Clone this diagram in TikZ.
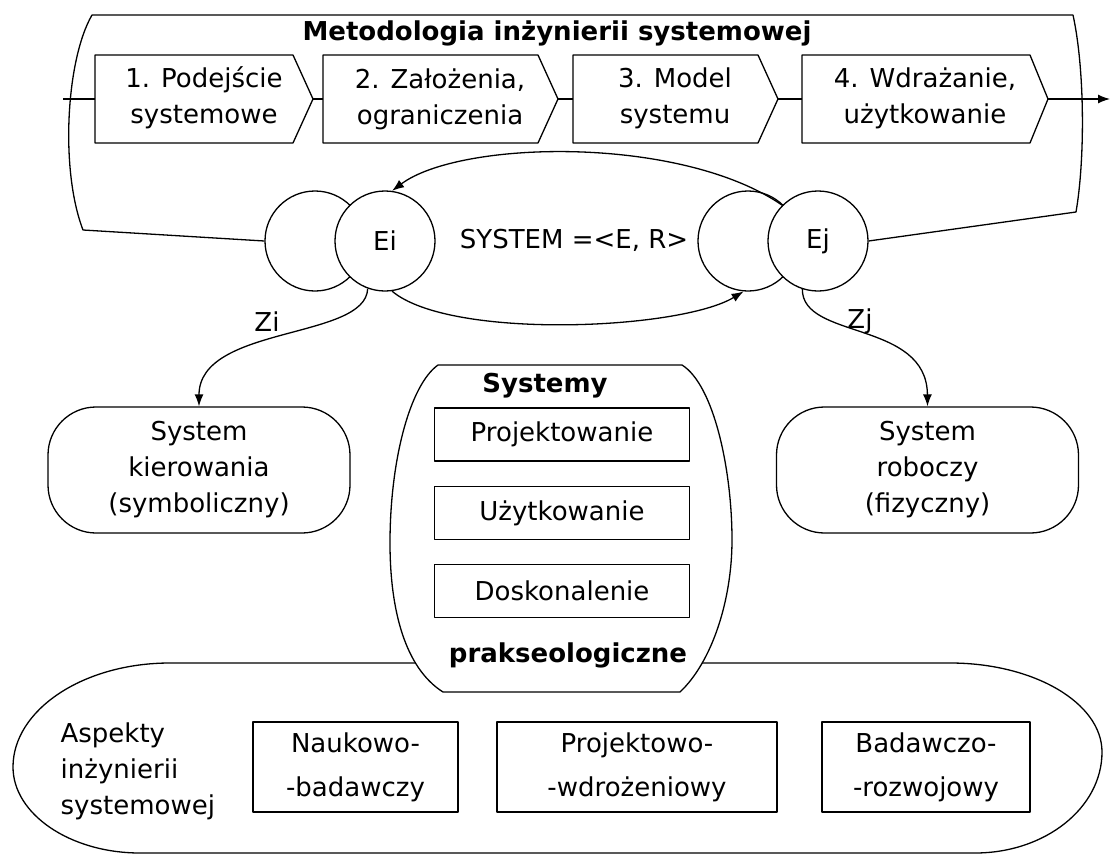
\documentclass[tikz,border=0pt]{standalone}
\usepackage{fontspec}
\setmainfont{DejaVu Sans}
\usetikzlibrary{arrows.meta}
\begin{document}
\begin{tikzpicture}[x=1pt,y=-1pt,
  line width=1.3pt, line join=round,
  txt/.style={font=\fontsize{26}{36}\selectfont, align=center, inner sep=0pt},
  btxt/.style={font=\fontsize{26}{36}\selectfont\bfseries, inner sep=0pt},
  elem/.style={circle, draw, fill=white, minimum size=100pt, inner sep=0pt, font=\fontsize{26}{36}\selectfont},
  sbox/.style={draw, fill=white, minimum width=255pt, minimum height=53pt, inner sep=0pt, font=\fontsize{26}{36}\selectfont},
  abox/.style={draw, minimum height=90pt, inner sep=0pt, align=center, font=\fontsize{26}{44}\selectfont},
  ovalbox/.style={draw, fill=white, rounded corners=48pt, minimum width=302pt, minimum height=126pt, align=center, inner sep=0pt, font=\fontsize{26}{36}\selectfont},
  arr/.style={-{Latex[length=12pt,width=9pt]}},
]
\useasboundingbox (0,0) rectangle (1112,854);

% ---------------- circles (elements) ----------------
\node[elem] (L)  at (315,241) {};
\node[elem] (Ei) at (385,241) {Ei};
\node[elem] (R)  at (748,241) {};
\node[elem] (Ej) at (818,241) {Ej};

% ---------------- frame of methodology ----------------
\coordinate (fbl) at (83,230);
\coordinate (fbr) at (1076,212);
\draw (L.west) -- (fbl) .. controls (60,170) and (66,60) .. (92,15)
      -- (1073,15) .. controls (1085,70) and (1085,160) .. (fbr) -- (Ej.east);

\node[btxt] (title) at (557,33) {Metodologia inżynierii systemowej};

% ---------------- chevrons ----------------
\coordinate (l1) at (95,99);  \coordinate (t1) at (313,99);
\coordinate (l2) at (323,99); \coordinate (t2) at (558,99);
\coordinate (l3) at (573,99); \coordinate (t3) at (778,99);
\coordinate (l4) at (802,99); \coordinate (t4) at (1048,99);
\draw (95,55) -- (293,55) -- (t1) -- (293,143) -- (95,143) -- cycle;
\draw (323,55) -- (538,55) -- (t2) -- (538,143) -- (323,143) -- cycle;
\draw (573,55) -- (758,55) -- (t3) -- (758,143) -- (573,143) -- cycle;
\draw (802,55) -- (1030,55) -- (t4) -- (1030,143) -- (802,143) -- cycle;
\node[txt] (c1) at (204,97.5) {1. Podejście\\systemowe};
\node[txt] (c2) at (440,99) {2. Założenia,\\ograniczenia};
\node[txt] (c3) at (675,98) {3. Model\\systemu};
\node[txt] (c4) at (925,98) {4. Wdrażanie,\\użytkowanie};

\coordinate (in) at (63,99);
\coordinate (out) at (1110,99);
\draw (in) -- (l1);
\draw (t1) -- (l2);
\draw (t2) -- (l3);
\draw (t3) -- (l4);
\draw[arr] (t4) -- (out);

% ---------------- relations ----------------
\draw[arr] (Ej.135) .. controls (680,135) and (460,140) .. (Ei.82);
\draw[arr] (Ei.-82) .. controls (450,340) and (680,330) .. (R.-95);
\node[txt] (sys) at (574,240) {SYSTEM =<E, R>};

% ---------------- control / working systems ----------------
\node[ovalbox] (sk) at (199,470) {System\\kierowania\\(symboliczny)};
\node[ovalbox] (sr) at (927.5,470) {System\\roboczy\\(fizyczny)};
\draw[arr] (Ei.-110) .. controls (366,340) and (199,325) .. (sk.north);
\draw[arr] (Ej.-108) .. controls (802,340) and (927,320) .. (sr.north);
\node[txt] (zi) at (267,322) {Zi};
\node[txt] (zj) at (860,321) {Zj};

% ---------------- aspects (bottom) ----------------
\draw (170,663) -- (950,663)
      .. controls (1034,663) and (1102,703) .. (1102,752)
      .. controls (1102,808) and (1045,853) .. (975,853)
      -- (140,853)
      .. controls (70,853) and (13,814) .. (13,767)
      .. controls (13,710) and (83,663) .. (170,663) -- cycle;

% ---------------- praxeological systems ----------------
\draw[fill=white] (438,365) -- (682,365)
      .. controls (714,385) and (732,470) .. (732,540)
      .. controls (732,600) and (712,662) .. (680,692)
      -- (443,692)
      .. controls (405,668) and (390,610) .. (390,543)
      .. controls (390,460) and (410,385) .. (438,365) -- cycle;
\node[btxt] (sysh) at (545,386) {Systemy};
\node[sbox] (p1) at (562,434.5) {Projektowanie};
\node[sbox] (p2) at (562,513) {Użytkowanie};
\node[sbox] (p3) at (562,591) {Doskonalenie};
\node[btxt] (prak) at (568,655) {prakseologiczne};

\node[txt, align=left, anchor=west] (asp) at (60,771) {Aspekty\\inżynierii\\systemowej};
\node[abox, minimum width=205pt] (a1) at (355.5,767) {Naukowo-\\-badawczy};
\node[abox, minimum width=280pt] (a2) at (637,767) {Projektowo-\\-wdrożeniowy};
\node[abox, minimum width=208pt] (a3) at (926,767) {Badawczo-\\-rozwojowy};
\end{tikzpicture}
\end{document}
